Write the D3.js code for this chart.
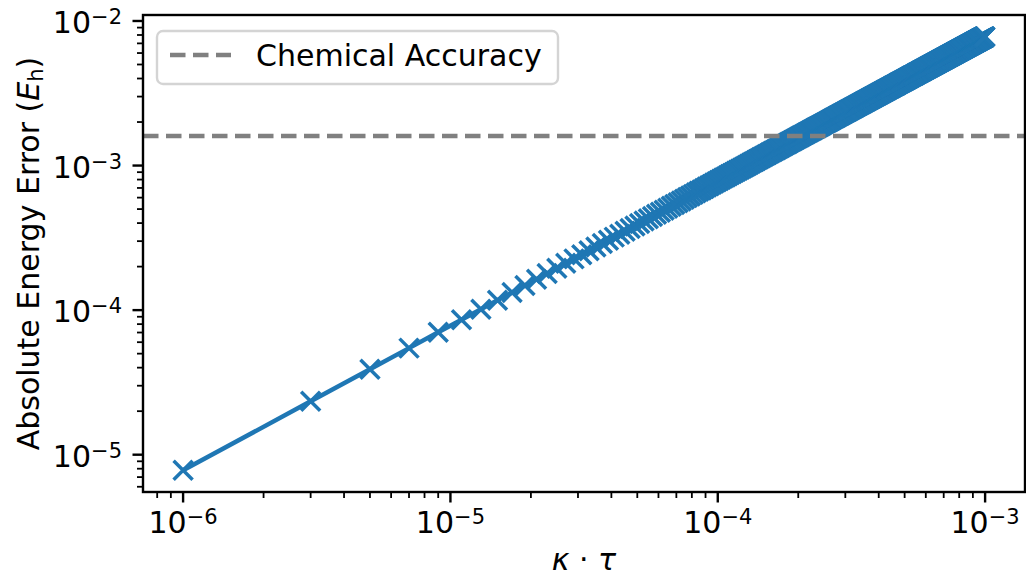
<!DOCTYPE html>
<html>
<head>
<meta charset="utf-8">
<script src="https://cdn.jsdelivr.net/npm/d3@7"></script>
<style>
body{margin:0;background:#fff;}
svg{display:block;font-family:"DejaVu Sans",sans-serif;}
</style>
</head>
<body>
<div id="container"></div>
<script>
/* DATA (kappaTau and energyError in units of 1e-6) */
const kappaTau = [
1,3,5,7,9,11,13,15,17,19,21,23,25,27,29,31,33,35,37,39,41,43,45,47,49,51,53,55,57,59,61,63,65,67,69,71,73,75,77,79,81,83,85,87,89,91,93,95,97,99,
101,103,105,107,109,111,113,115,117,119,121,123,125,127,129,131,133,135,137,139,141,143,145,147,149,151,153,155,157,159,161,163,165,167,169,171,173,175,177,179,181,183,185,187,189,191,193,195,197,199,
201,203,205,207,209,211,213,215,217,219,221,223,225,227,229,231,233,235,237,239,241,243,245,247,249,251,253,255,257,259,261,263,265,267,269,271,273,275,277,279,281,283,285,287,289,291,293,295,297,299,
301,303,305,307,309,311,313,315,317,319,321,323,325,327,329,331,333,335,337,339,341,343,345,347,349,351,353,355,357,359,361,363,365,367,369,371,373,375,377,379,381,383,385,387,389,391,393,395,397,399,
401,403,405,407,409,411,413,415,417,419,421,423,425,427,429,431,433,435,437,439,441,443,445,447,449,451,453,455,457,459,461,463,465,467,469,471,473,475,477,479,481,483,485,487,489,491,493,495,497,499,
501,503,505,507,509,511,513,515,517,519,521,523,525,527,529,531,533,535,537,539,541,543,545,547,549,551,553,555,557,559,561,563,565,567,569,571,573,575,577,579,581,583,585,587,589,591,593,595,597,599,
601,603,605,607,609,611,613,615,617,619,621,623,625,627,629,631,633,635,637,639,641,643,645,647,649,651,653,655,657,659,661,663,665,667,669,671,673,675,677,679,681,683,685,687,689,691,693,695,697,699,
701,703,705,707,709,711,713,715,717,719,721,723,725,727,729,731,733,735,737,739,741,743,745,747,749,751,753,755,757,759,761,763,765,767,769,771,773,775,777,779,781,783,785,787,789,791,793,795,797,799,
801,803,805,807,809,811,813,815,817,819,821,823,825,827,829,831,833,835,837,839,841,843,845,847,849,851,853,855,857,859,861,863,865,867,869,871,873,875,877,879,881,883,885,887,889,891,893,895,897,899,
901,903,905,907,909,911,913,915,917,919,921,923,925,927,929,931,933,935,937,939,941,943,945,947,949,951,953,955,957,959,961,963,965,967,969,971,973,975,977,979,981,983,985,987,989,991,993,995,997,999
];
const energyError = [
7.8,23.4,39,54.6,70.2, 85.8,101.4,117,132.6,148.2, 163.8,179.4,195,210.6,226.2, 241.8,257.4,273,288.6,304.2, 319.8,335.4,351,366.6,382.2,
397.8,413.4,429,444.6,460.2, 475.8,491.4,507,522.6,538.2, 553.8,569.4,585,600.6,616.2, 631.8,647.4,663,678.6,694.2, 709.8,725.4,741,756.6,772.2,
787.8,803.4,819,834.6,850.2, 865.8,881.4,897,912.6,928.2, 943.8,959.4,975,990.6,1006.2, 1021.8,1037.4,1053,1068.6,1084.2, 1099.8,1115.4,1131,1146.6,1162.2,
1177.8,1193.4,1209,1224.6,1240.2, 1255.8,1271.4,1287,1302.6,1318.2, 1333.8,1349.4,1365,1380.6,1396.2, 1411.8,1427.4,1443,1458.6,1474.2, 1489.8,1505.4,1521,1536.6,1552.2,
1567.8,1583.4,1599,1614.6,1630.2, 1645.8,1661.4,1677,1692.6,1708.2, 1723.8,1739.4,1755,1770.6,1786.2, 1801.8,1817.4,1833,1848.6,1864.2, 1879.8,1895.4,1911,1926.6,1942.2,
1957.8,1973.4,1989,2004.6,2020.2, 2035.8,2051.4,2067,2082.6,2098.2, 2113.8,2129.4,2145,2160.6,2176.2, 2191.8,2207.4,2223,2238.6,2254.2, 2269.8,2285.4,2301,2316.6,2332.2,
2347.8,2363.4,2379,2394.6,2410.2, 2425.8,2441.4,2457,2472.6,2488.2, 2503.8,2519.4,2535,2550.6,2566.2, 2581.8,2597.4,2613,2628.6,2644.2, 2659.8,2675.4,2691,2706.6,2722.2,
2737.8,2753.4,2769,2784.6,2800.2, 2815.8,2831.4,2847,2862.6,2878.2, 2893.8,2909.4,2925,2940.6,2956.2, 2971.8,2987.4,3003,3018.6,3034.2, 3049.8,3065.4,3081,3096.6,3112.2,
3127.8,3143.4,3159,3174.6,3190.2, 3205.8,3221.4,3237,3252.6,3268.2, 3283.8,3299.4,3315,3330.6,3346.2, 3361.8,3377.4,3393,3408.6,3424.2, 3439.8,3455.4,3471,3486.6,3502.2,
3517.8,3533.4,3549,3564.6,3580.2, 3595.8,3611.4,3627,3642.6,3658.2, 3673.8,3689.4,3705,3720.6,3736.2, 3751.8,3767.4,3783,3798.6,3814.2, 3829.8,3845.4,3861,3876.6,3892.2,
3907.8,3923.4,3939,3954.6,3970.2, 3985.8,4001.4,4017,4032.6,4048.2, 4063.8,4079.4,4095,4110.6,4126.2, 4141.8,4157.4,4173,4188.6,4204.2, 4219.8,4235.4,4251,4266.6,4282.2,
4297.8,4313.4,4329,4344.6,4360.2, 4375.8,4391.4,4407,4422.6,4438.2, 4453.8,4469.4,4485,4500.6,4516.2, 4531.8,4547.4,4563,4578.6,4594.2, 4609.8,4625.4,4641,4656.6,4672.2,
4687.8,4703.4,4719,4734.6,4750.2, 4765.8,4781.4,4797,4812.6,4828.2, 4843.8,4859.4,4875,4890.6,4906.2, 4921.8,4937.4,4953,4968.6,4984.2, 4999.8,5015.4,5031,5046.6,5062.2,
5077.8,5093.4,5109,5124.6,5140.2, 5155.8,5171.4,5187,5202.6,5218.2, 5233.8,5249.4,5265,5280.6,5296.2, 5311.8,5327.4,5343,5358.6,5374.2, 5389.8,5405.4,5421,5436.6,5452.2,
5467.8,5483.4,5499,5514.6,5530.2, 5545.8,5561.4,5577,5592.6,5608.2, 5623.8,5639.4,5655,5670.6,5686.2, 5701.8,5717.4,5733,5748.6,5764.2, 5779.8,5795.4,5811,5826.6,5842.2,
5857.8,5873.4,5889,5904.6,5920.2, 5935.8,5951.4,5967,5982.6,5998.2, 6013.8,6029.4,6045,6060.6,6076.2, 6091.8,6107.4,6123,6138.6,6154.2, 6169.8,6185.4,6201,6216.6,6232.2,
6247.8,6263.4,6279,6294.6,6310.2, 6325.8,6341.4,6357,6372.6,6388.2, 6403.8,6419.4,6435,6450.6,6466.2, 6481.8,6497.4,6513,6528.6,6544.2, 6559.8,6575.4,6591,6606.6,6622.2,
6637.8,6653.4,6669,6684.6,6700.2, 6715.8,6731.4,6747,6762.6,6778.2, 6793.8,6809.4,6825,6840.6,6856.2, 6871.8,6887.4,6903,6918.6,6934.2, 6949.8,6965.4,6981,6996.6,7012.2,
7027.8,7043.4,7059,7074.6,7090.2, 7105.8,7121.4,7137,7152.6,7168.2, 7183.8,7199.4,7215,7230.6,7246.2, 7261.8,7277.4,7293,7308.6,7324.2, 7339.8,7355.4,7371,7386.6,7402.2,
7417.8,7433.4,7449,7464.6,7480.2, 7495.8,7511.4,7527,7542.6,7558.2, 7573.8,7589.4,7605,7620.6,7636.2, 7651.8,7667.4,7683,7698.6,7714.2, 7729.8,7745.4,7761,7776.6,7792.2
];
const unit = 1e-6;
const chemicalAccuracy = 1.6e-3;
const legendLabel = "Chemical Accuracy";
const xTickExponents = [-6, -5, -4, -3];
const yTickExponents = [-5, -4, -3, -2];
const xLimits = [7.08e-7, 1.41e-3];
const yLimits = [5.52e-6, 1.10e-2];

/* CONSTANTS AND GLOBALS */
const width = 1026;
const height = 579;
const margin = {left: 143, top: 15, right: 1, bottom: 87};
const fontSize = 30;
const blue = "#1f77b4";

const data = kappaTau.map((k, i) => ({x: k * unit, y: energyError[i] * unit}));

/* SCALES */
const xScale = d3.scaleLog()
  .domain(xLimits)
  .range([margin.left, width - margin.right]);

const yScale = d3.scaleLog()
  .domain(yLimits)
  .range([height - margin.bottom, margin.top]);

function minorTicks(limits) {
  const out = [];
  for (let e = -8; e <= 0; e++) {
    for (let m = 2; m <= 9; m++) {
      const v = m * Math.pow(10, e);
      if (v >= limits[0] && v <= limits[1]) out.push(v);
    }
  }
  return out;
}

function powLabel(sel, exp) {
  sel.append("tspan").text("10");
  sel.append("tspan")
    .attr("dy", "-0.42em")
    .attr("font-size", "0.7em")
    .text("\u2212" + Math.abs(exp));
}

/* SVG */
const svg = d3.select("#container")
  .append("svg")
  .attr("width", width)
  .attr("height", height);

svg.append("defs").append("clipPath")
  .attr("id", "plot-clip")
  .append("rect")
  .attr("x", margin.left)
  .attr("y", margin.top)
  .attr("width", width - margin.right - margin.left)
  .attr("height", height - margin.bottom - margin.top);

const plot = svg.append("g").attr("clip-path", "url(#plot-clip)");

// line + x markers
plot.append("path")
  .datum(data)
  .attr("fill", "none")
  .attr("stroke", blue)
  .attr("stroke-width", 4.5)
  .attr("stroke-linejoin", "round")
  .attr("d", d3.line().x(d => xScale(d.x)).y(d => yScale(d.y)));

const h = 9.5;
plot.selectAll("path.marker")
  .data(data)
  .join("path")
  .attr("class", "marker")
  .attr("fill", "none")
  .attr("stroke", blue)
  .attr("stroke-width", 3.5)
  .attr("d", d => {
    const cx = xScale(d.x), cy = yScale(d.y);
    return `M${cx - h},${cy - h}L${cx + h},${cy + h}M${cx - h},${cy + h}L${cx + h},${cy - h}`;
  });

// chemical accuracy line
plot.append("line")
  .attr("x1", margin.left)
  .attr("x2", width - margin.right)
  .attr("y1", yScale(chemicalAccuracy))
  .attr("y2", yScale(chemicalAccuracy))
  .attr("stroke", "#808080")
  .attr("stroke-width", 4.5)
  .attr("stroke-dasharray", "15.5,7.5");

// ticks
const x0 = margin.left, y0 = height - margin.bottom;
const xMajor = xTickExponents.map(e => Math.pow(10, e));
const yMajor = yTickExponents.map(e => Math.pow(10, e));

svg.selectAll("line.xminor")
  .data(minorTicks(xLimits))
  .join("line")
  .attr("x1", d => xScale(d)).attr("x2", d => xScale(d))
  .attr("y1", y0).attr("y2", y0 + 6)
  .attr("stroke", "#000").attr("stroke-width", 1.8);

svg.selectAll("line.xmajor")
  .data(xMajor)
  .join("line")
  .attr("x1", d => xScale(d)).attr("x2", d => xScale(d))
  .attr("y1", y0).attr("y2", y0 + 10.5)
  .attr("stroke", "#000").attr("stroke-width", 2.4);

svg.selectAll("line.yminor")
  .data(minorTicks(yLimits))
  .join("line")
  .attr("x1", x0).attr("x2", x0 - 6)
  .attr("y1", d => yScale(d)).attr("y2", d => yScale(d))
  .attr("stroke", "#000").attr("stroke-width", 1.8);

svg.selectAll("line.ymajor")
  .data(yMajor)
  .join("line")
  .attr("x1", x0).attr("x2", x0 - 10.5)
  .attr("y1", d => yScale(d)).attr("y2", d => yScale(d))
  .attr("stroke", "#000").attr("stroke-width", 2.4);

// tick labels
xTickExponents.forEach(e => {
  svg.append("text")
    .attr("x", xScale(Math.pow(10, e)))
    .attr("y", y0 + 41)
    .attr("text-anchor", "middle")
    .attr("font-size", fontSize)
    .call(powLabel, e);
});

yTickExponents.forEach(e => {
  svg.append("text")
    .attr("x", x0 - 21)
    .attr("y", yScale(Math.pow(10, e)) + 12)
    .attr("text-anchor", "end")
    .attr("font-size", fontSize)
    .call(powLabel, e);
});

// spines
svg.append("rect")
  .attr("x", margin.left)
  .attr("y", margin.top)
  .attr("width", width - margin.right - margin.left)
  .attr("height", height - margin.bottom - margin.top)
  .attr("fill", "none")
  .attr("stroke", "#000")
  .attr("stroke-width", 2.4);

// axis titles
const xTitle = svg.append("text")
  .attr("x", (margin.left + width - margin.right) / 2)
  .attr("y", height - 9)
  .attr("text-anchor", "middle")
  .attr("font-size", fontSize);
xTitle.append("tspan").attr("font-style", "italic").text("\u03ba");
xTitle.append("tspan").text(" \u00b7 ");
xTitle.append("tspan").attr("font-style", "italic").text("\u03c4");

const yTitle = svg.append("text")
  .attr("transform", `translate(39,${(margin.top + height - margin.bottom) / 2}) rotate(-90)`)
  .attr("text-anchor", "middle")
  .attr("font-size", fontSize);
yTitle.append("tspan").text("Absolute Energy Error (");
yTitle.append("tspan").attr("font-style", "italic").text("E");
yTitle.append("tspan").attr("font-size", "0.7em").attr("dy", "0.2em").text("h");
yTitle.append("tspan").attr("dy", "-0.14em").text(")");

// legend
const legend = svg.append("g");
legend.append("rect")
  .attr("x", 157).attr("y", 31)
  .attr("width", 401).attr("height", 53)
  .attr("rx", 6)
  .attr("fill", "#fff").attr("fill-opacity", 0.8)
  .attr("stroke", "#d4d4d4").attr("stroke-width", 2.4);
legend.append("line")
  .attr("x1", 170).attr("x2", 231)
  .attr("y1", 55).attr("y2", 55)
  .attr("stroke", "#808080")
  .attr("stroke-width", 4.5)
  .attr("stroke-dasharray", "15.5,7.5");
legend.append("text")
  .attr("x", 256).attr("y", 66)
  .attr("font-size", fontSize)
  .text(legendLabel);
</script>
</body>
</html>
